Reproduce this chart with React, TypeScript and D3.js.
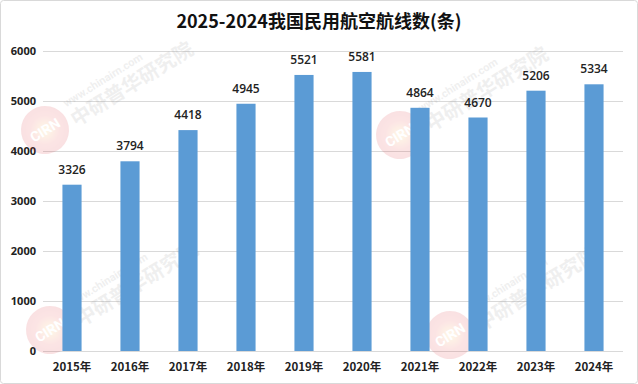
import React from "react";
import * as d3 from "d3";

const categories = ["2015年", "2016年", "2017年", "2018年", "2019年", "2020年", "2021年", "2022年", "2023年", "2024年"];
const values = [3326, 3794, 4418, 4945, 5521, 5581, 4864, 4670, 5206, 5334];
const yTicks = [0, 1000, 2000, 3000, 4000, 5000, 6000];
const title = "2025-2024我国民用航空航线数(条)";
const watermarkPositions: [number, number][] = [[45, 130], [400, 135], [50, 330], [450, 335]];

const W = 638;
const H = 384;
const M = { left: 43, right: 15, top: 51, bottom: 33 };

function Watermark({ x, y }: { x: number; y: number }) {
  return (
    <g transform={`translate(${x},${y}) rotate(-32)`} opacity={0.13}>
      <circle cx={0} cy={0} r={24} fill={`url(#wmGrad)`} />
      <text x={0} y={5} textAnchor="middle" fontSize={14} fontWeight="bold" fill="#fff" fontFamily="Roboto, sans-serif">CIRN</text>
      <text x={30} y={-8} fontSize={11} fontWeight="bold" fill="#888" fontFamily="Roboto, sans-serif">www.chinairn.com</text>
      <text x={28} y={14} fontSize={20} fontWeight="bold" fill="#888" fontFamily="'Noto Sans CJK SC', sans-serif">中研普华研究院</text>
    </g>
  );
}

export default function App() {
  const x = d3.scaleBand<string>().domain(categories).range([M.left, W - M.right]).paddingInner(0.67).paddingOuter(0.335);
  const y = d3.scaleLinear().domain([0, 6000]).range([H - M.bottom, M.top]);
  const numFont = "'Open Sans', 'Noto Sans', sans-serif";
  return (
    <div style={{ position: "fixed", left: 0, top: 0 }}>
      <svg width={W} height={H} style={{ display: "block" }}>
        <defs>
          <radialGradient id="wmGrad" cx="0.5" cy="0.5" r="0.5">
            <stop offset="0%" stopColor="#ffd24a" />
            <stop offset="60%" stopColor="#e83a3a" />
            <stop offset="100%" stopColor="#d81f2a" />
          </radialGradient>
        </defs>
        <rect x={0} y={0} width={W} height={H} fill="#fff" />
        <rect x={0.5} y={0.5} width={W - 1} height={H - 1} fill="none" stroke="#d9d9d9" rx={3} />
        <text x={319} y={28} textAnchor="middle" fontSize={18} fontWeight="bold" fill="#111" fontFamily="'Noto Sans CJK SC', sans-serif">{title}</text>
        {yTicks.map((t) => (
          <g key={t}>
            <line x1={M.left} x2={W - M.right} y1={y(t) + 0.5} y2={y(t) + 0.5} stroke="#d9d9d9" strokeWidth={1} />
            <text x={36} y={y(t) + 4} textAnchor="end" fontSize={11} fontWeight="bold" fill="#222" fontFamily={numFont}>{t}</text>
          </g>
        ))}
        {watermarkPositions.map(([wx, wy], i) => (
          <Watermark key={i} x={wx} y={wy} />
        ))}
        {categories.map((c, i) => (
          <g key={c}>
            <rect x={x(c)!} y={y(values[i])} width={x.bandwidth()} height={y(0) - y(values[i])} fill="#5B9BD5" />
            <text x={x(c)! + x.bandwidth() / 2} y={y(values[i]) - 11} textAnchor="middle" fontSize={12} fontWeight={600} fill="#222" fontFamily={numFont}>{values[i]}</text>
            <text x={x(c)! + x.bandwidth() / 2} y={371} textAnchor="middle" fontSize={11.5} fontWeight="bold" fill="#222" fontFamily="'Noto Sans CJK SC', sans-serif">{c}</text>
          </g>
        ))}
      </svg>
    </div>
  );
}
